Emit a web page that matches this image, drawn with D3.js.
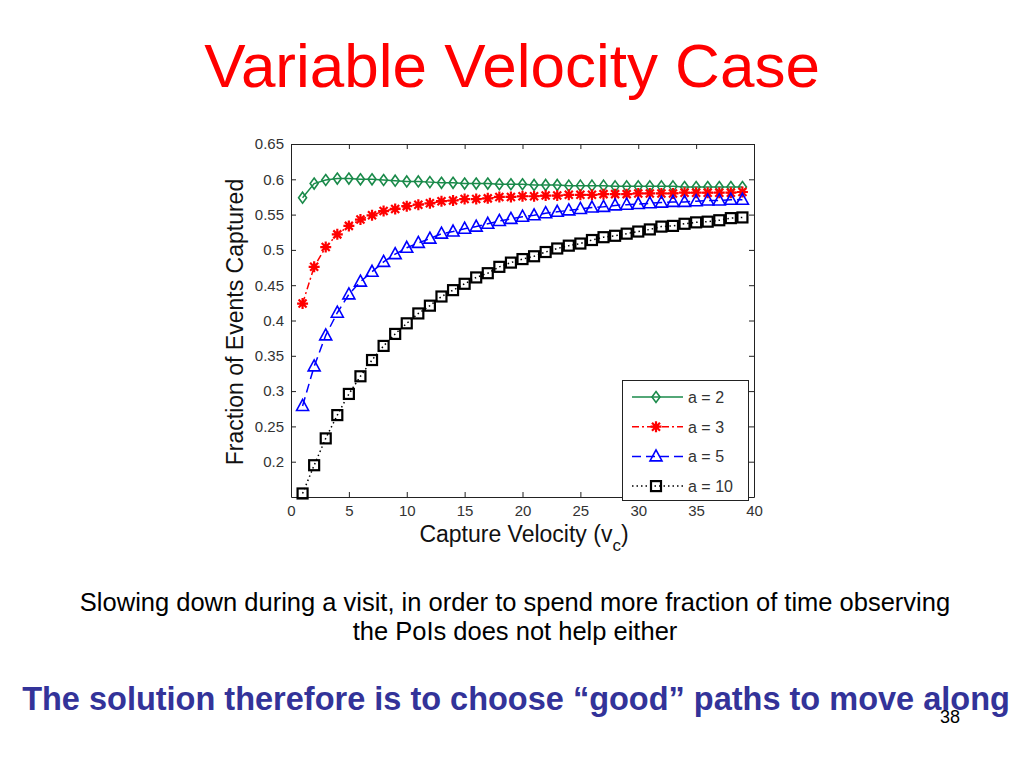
<!DOCTYPE html>
<html>
<head>
<meta charset="utf-8">
<script src="https://cdn.jsdelivr.net/npm/d3@7"></script>
<style>
body { margin: 0; background: #fff; }
svg { display: block; font-family: "Liberation Sans", Arial, sans-serif; }
</style>
</head>
<body>
<svg id="chart" width="1024" height="768"></svg>
<script>
var width = 1024;
var height = 768;

// capture velocity values 1..39
var velocity = [1,2,3,4,5,6,7,8,9,10,11,12,13,14,15,16,17,18,19,20,
    21,22,23,24,25,26,27,28,29,30,31,32,33,34,35,36,37,38,39];

var a2 = [0.574,0.594,0.599,0.601,0.601,0.600,0.600,0.599,0.598,0.597,
    0.597,0.596,0.595,0.595,0.594,0.594,0.594,0.593,0.593,0.593,
    0.592,0.592,0.592,0.591,0.591,0.591,0.591,0.590,0.590,0.590,
    0.590,0.590,0.590,0.589,0.589,0.589,0.589,0.589,0.589];
var a3 = [0.424,0.476,0.504,0.522,0.534,0.543,0.549,0.555,0.558,0.562,
    0.564,0.566,0.569,0.570,0.572,0.572,0.573,0.575,0.575,0.576,
    0.576,0.577,0.577,0.578,0.578,0.578,0.579,0.579,0.579,0.580,
    0.580,0.580,0.580,0.581,0.581,0.581,0.581,0.581,0.582];
var a5 = [0.279,0.335,0.379,0.411,0.437,0.455,0.469,0.483,0.494,0.503,
    0.510,0.516,0.523,0.526,0.530,0.533,0.537,0.541,0.544,0.547,
    0.549,0.552,0.554,0.556,0.558,0.560,0.561,0.563,0.564,0.565,
    0.566,0.567,0.568,0.568,0.569,0.570,0.570,0.571,0.571];
var a10 = [0.155,0.195,0.233,0.266,0.296,0.321,0.344,0.364,0.381,0.396,
    0.410,0.421,0.434,0.443,0.452,0.461,0.467,0.476,0.482,0.487,
    0.491,0.497,0.502,0.506,0.509,0.514,0.518,0.520,0.523,0.526,
    0.529,0.533,0.534,0.537,0.539,0.540,0.542,0.545,0.546];

var seriesNames = ["a = 2", "a = 3", "a = 5", "a = 10"];
var xTicks = [0,5,10,15,20,25,30,35,40];
var yTicks = [0.2,0.25,0.3,0.35,0.4,0.45,0.5,0.55,0.6,0.65];

var series = [
    {name: seriesNames[0], values: a2, color: "#1a8a4a", dash: null, marker: "diamond"},
    {name: seriesNames[1], values: a3, color: "#ff0000", dash: "7,3,2,3", marker: "star"},
    {name: seriesNames[2], values: a5, color: "#0000ff", dash: "9,5", marker: "triangle"},
    {name: seriesNames[3], values: a10, color: "#000000", dash: "1.5,3", marker: "square"}
];

var svg = d3.select("#chart");

// slide title
svg.append("text")
    .attr("x", 512).attr("y", 87)
    .attr("text-anchor", "middle")
    .attr("font-size", 62)
    .attr("fill", "#ff0000")
    .text("Variable Velocity Case");

var plotLeft = 291, plotRight = 754, plotTop = 144, plotBottom = 497;

var x = d3.scaleLinear().domain([0, 40]).range([plotLeft, plotRight]);
var y = d3.scaleLinear().domain([0.15, 0.65]).range([plotBottom, plotTop]);

var plot = svg.append("g");

// axes, MATLAB style: ticks inside, box on all sides
plot.append("g")
    .attr("transform", "translate(0," + plotBottom + ")")
    .call(d3.axisBottom(x).tickValues(xTicks).tickSizeInner(-5).tickSizeOuter(0).tickPadding(8));
plot.append("g")
    .attr("transform", "translate(" + plotLeft + ",0)")
    .call(d3.axisLeft(y).tickValues(yTicks).tickFormat(d3.format("")).tickSizeInner(-5).tickSizeOuter(0).tickPadding(7));
plot.append("g")
    .attr("transform", "translate(0," + plotTop + ")")
    .call(d3.axisTop(x).tickValues(xTicks).tickSizeInner(-5).tickSizeOuter(0).tickFormat(""));
plot.append("g")
    .attr("transform", "translate(" + plotRight + ",0)")
    .call(d3.axisRight(y).tickValues(yTicks).tickSizeInner(-5).tickSizeOuter(0).tickFormat(""));

plot.selectAll(".domain").attr("stroke", "#222").attr("stroke-width", 1);
plot.selectAll(".tick line").attr("stroke", "#222");
plot.selectAll(".tick text")
    .attr("font-family", "Liberation Sans, Arial, sans-serif")
    .attr("font-size", 15)
    .attr("fill", "#333");

// axis labels
var xl = svg.append("text")
    .attr("x", 524).attr("y", 542)
    .attr("text-anchor", "middle")
    .attr("font-size", 23)
    .attr("fill", "#111");
xl.append("tspan").text("Capture Velocity (v");
xl.append("tspan").attr("font-size", 17).attr("dy", 9).text("c");
xl.append("tspan").attr("dy", -9).text(")");

svg.append("text")
    .attr("transform", "translate(243,322) rotate(-90)")
    .attr("text-anchor", "middle")
    .attr("font-size", 23)
    .attr("fill", "#111")
    .text("Fraction of Events Captured");

var line = d3.line()
    .x(function(d, i) { return x(velocity[i]); })
    .y(function(d) { return y(d); });

var drawMarker = function(g, type, color, cx, cy) {
    if (type == "diamond") {
        g.append("path")
            .attr("d", "M" + cx + "," + (cy - 5.5) + "L" + (cx + 4) + "," + cy + "L" + cx + "," + (cy + 5.5) + "L" + (cx - 4) + "," + cy + "Z")
            .attr("fill", "none").attr("stroke", color).attr("stroke-width", 1.6);
    } else if (type == "star") {
        g.append("path")
            .attr("d", "M" + (cx - 5.5) + "," + cy + "h11M" + cx + "," + (cy - 5.5) + "v11" +
                "M" + (cx - 4) + "," + (cy - 4) + "l8,8M" + (cx - 4) + "," + (cy + 4) + "l8,-8")
            .attr("fill", "none").attr("stroke", color).attr("stroke-width", 2.2);
    } else if (type == "triangle") {
        g.append("path")
            .attr("d", "M" + cx + "," + (cy - 6.5) + "L" + (cx + 6) + "," + (cy + 4.5) + "L" + (cx - 6) + "," + (cy + 4.5) + "Z")
            .attr("fill", "none").attr("stroke", color).attr("stroke-width", 1.6);
    } else {
        g.append("rect")
            .attr("x", cx - 5).attr("y", cy - 5).attr("width", 10).attr("height", 10)
            .attr("fill", "none").attr("stroke", color).attr("stroke-width", 2.2);
    }
};

series.forEach(function(s) {
    plot.append("path")
        .datum(s.values)
        .attr("d", line)
        .attr("fill", "none")
        .attr("stroke", s.color)
        .attr("stroke-width", 1.5)
        .attr("stroke-dasharray", s.dash);
    var mg = plot.append("g");
    s.values.forEach(function(v, i) {
        drawMarker(mg, s.marker, s.color, x(velocity[i]), y(v));
    });
});

// legend
var lg = svg.append("g");
lg.append("rect")
    .attr("x", 622.5).attr("y", 380.5).attr("width", 126).attr("height", 120)
    .attr("fill", "#fff").attr("stroke", "#222").attr("stroke-width", 1);
series.forEach(function(s, i) {
    var ly = 397 + i * 29.7;
    lg.append("line")
        .attr("x1", 632).attr("x2", 683).attr("y1", ly).attr("y2", ly)
        .attr("stroke", s.color).attr("stroke-width", 1.5)
        .attr("stroke-dasharray", s.dash);
    drawMarker(lg, s.marker, s.color, 656, ly);
    lg.append("text")
        .attr("x", 688).attr("y", ly + 6)
        .attr("font-size", 16)
        .attr("fill", "#333")
        .text(s.name);
});

// notes below the chart
svg.append("text")
    .attr("x", 515).attr("y", 611)
    .attr("text-anchor", "middle")
    .attr("font-size", 25.5)
    .attr("fill", "#000")
    .text("Slowing down during a visit, in order to spend more fraction of time observing");
svg.append("text")
    .attr("x", 515).attr("y", 640)
    .attr("text-anchor", "middle")
    .attr("font-size", 25.5)
    .attr("fill", "#000")
    .text("the PoIs does not help either");

svg.append("text")
    .attr("x", 516).attr("y", 710)
    .attr("text-anchor", "middle")
    .attr("font-size", 32.5)
    .attr("font-weight", "bold")
    .attr("fill", "#333399")
    .text("The solution therefore is to choose \u201cgood\u201d paths to move along");

svg.append("text")
    .attr("x", 940).attr("y", 723)
    .attr("font-size", 18)
    .attr("fill", "#000")
    .text("38");
</script>
</body>
</html>
